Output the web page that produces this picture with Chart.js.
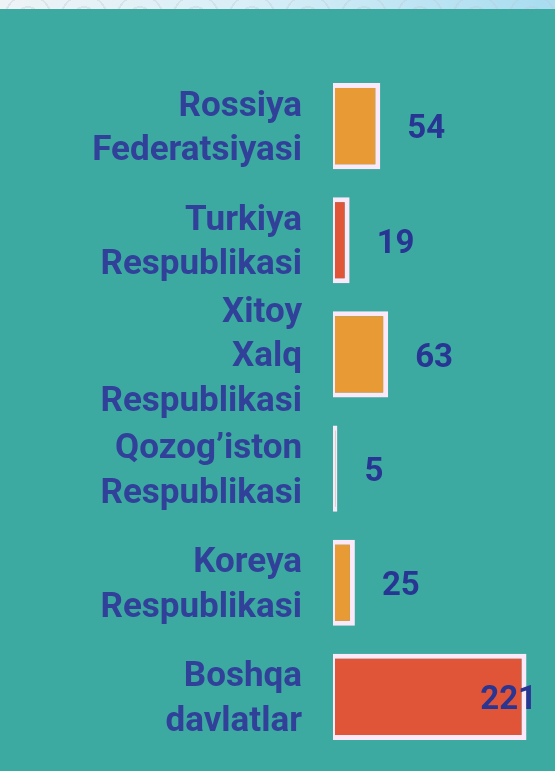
<!DOCTYPE html>
<html>
<head>
<meta charset="utf-8">
<script src="https://cdn.jsdelivr.net/npm/chart.js@4"></script>
<style>
  html, body { margin: 0; padding: 0; }
  body { width: 555px; height: 771px; background: #3DAAA1; position: relative; overflow: hidden; }
  #strip { position: absolute; left: 0; top: 0; width: 555px; height: 9px;
    background:
      repeating-radial-gradient(circle at 50% 100%, rgba(255,255,255,0) 0 10px, rgba(190,200,210,0.35) 10px 12px),
      linear-gradient(90deg, #eef3f6 0%, #d9eef7 45%, #a8dcf0 100%);
    background-size: 56px 18px, 100% 100%; }
  #wrap { position: absolute; left: 0; top: 0; width: 555px; height: 771px; }
</style>
</head>
<body>
<div id="strip"></div>
<div id="wrap"><canvas id="c" width="555" height="771"></canvas></div>
<script>
const categories = [
  ["Rossiya", "Federatsiyasi"],
  ["Turkiya", "Respublikasi"],
  ["Xitoy", "Xalq", "Respublikasi"],
  ["Qozog\u2019iston", "Respublikasi"],
  ["Koreya", "Respublikasi"],
  ["Boshqa", "davlatlar"]
];
const values = [54, 19, 63, 5, 25, 221];
const barColors = ["#E89A35", "#E05438", "#E89A35", "#E89A35", "#E89A35", "#E05438"];

const valueLabels = {
  id: 'valueLabels',
  afterDatasetsDraw(chart) {
    const ctx = chart.ctx;
    const meta = chart.getDatasetMeta(0);
    ctx.save();
    ctx.font = 'bold 33px Roboto';
    ctx.fillStyle = '#283593';
    ctx.textBaseline = 'middle';
    ctx.textAlign = 'left';
    meta.data.forEach((bar, i) => {
      const txt = String(values[i]);
      const w = ctx.measureText(txt).width;
      let x = bar.x + 27;
      if (x + w > 537) x = 537 - w;
      ctx.fillText(txt, x, bar.y + 4);
    });
    ctx.restore();
  }
};

new Chart(document.getElementById('c'), {
  type: 'bar',
  data: {
    labels: categories,
    datasets: [{
      data: values,
      backgroundColor: barColors,
      borderColor: '#FBE9FA',
      borderWidth: { left: 2, top: 5, right: 5, bottom: 5 },
      borderSkipped: false,
      barPercentage: 0.755,
      categoryPercentage: 1
    }]
  },
  options: {
    indexAxis: 'y',
    responsive: false,
    animation: false,
    layout: { padding: { top: 69, bottom: 17, left: 0, right: 25 } },
    plugins: { legend: { display: false }, tooltip: { enabled: false } },
    scales: {
      x: { display: false, min: 0, max: 225 },
      y: {
        grid: { display: false, drawTicks: false },
        border: { display: false },
        afterFit: (s) => { s.width = 333; s.paddingTop = 0; s.paddingBottom = 0; },
        ticks: {
          autoSkip: false,
          padding: 31,
          labelOffset: 3,
          color: '#31419A',
          font: { family: 'Roboto', weight: 'bold', size: 35, lineHeight: 1.27 }
        }
      }
    }
  },
  plugins: [valueLabels]
});
</script>
</body>
</html>
